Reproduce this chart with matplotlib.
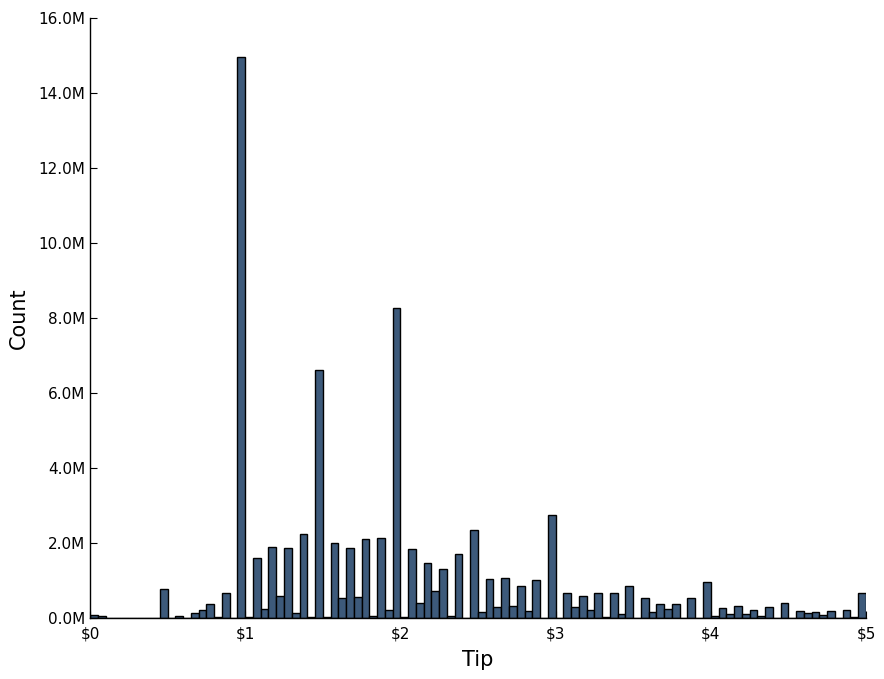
import numpy as np
import matplotlib
matplotlib.use("Agg")
import matplotlib.pyplot as plt
from matplotlib.ticker import FuncFormatter

# Tip histogram: 100 bins of $0.05 from $0 to $5; counts in millions
bin_width = 0.05
bin_left = np.arange(100) * bin_width
counts_m = [
    0.09, 0.06, 0.0, 0.0, 0.0, 0.0, 0.0, 0.0, 0.0, 0.77,   # 0.00-0.45
    0.0, 0.05, 0.0, 0.13, 0.21, 0.37, 0.03, 0.66, 0.0, 14.96,  # 0.50-0.95
    0.03, 1.59, 0.24, 1.89, 0.59, 1.86, 0.13, 2.23, 0.02, 6.61,  # 1.00-1.45
    0.03, 1.99, 0.53, 1.86, 0.56, 2.11, 0.06, 2.13, 0.21, 8.27,  # 1.50-1.95
    0.02, 1.83, 0.39, 1.46, 0.72, 1.31, 0.06, 1.70, 0.01, 2.34,  # 2.00-2.45
    0.16, 1.03, 0.29, 1.07, 0.32, 0.85, 0.18, 1.01, 0.01, 2.75,  # 2.50-2.95
    0.01, 0.66, 0.30, 0.59, 0.21, 0.66, 0.03, 0.66, 0.11, 0.85,  # 3.00-3.45
    0.01, 0.53, 0.15, 0.38, 0.24, 0.38, 0.01, 0.53, 0.01, 0.96,  # 3.50-3.95
    0.06, 0.28, 0.11, 0.32, 0.11, 0.21, 0.05, 0.29, 0.01, 0.40,  # 4.00-4.45
    0.01, 0.19, 0.14, 0.16, 0.08, 0.19, 0.01, 0.21, 0.03, 0.66,  # 4.50-4.95
]
counts = np.array(counts_m) * 1e6

x_ticks = [0, 1, 2, 3, 4, 5]
y_ticks = np.arange(0, 16.5e6, 2e6)

fig = plt.figure(figsize=(8.84, 6.79), dpi=100)
ax = fig.add_axes([0.1018, 0.0898, 0.8778, 0.8837])

ax.bar(bin_left, counts, width=bin_width, align="edge",
       color="#3d5a7b", edgecolor="black", linewidth=1.0)

ax.set_xlim(0, 5)
ax.set_ylim(0, 16e6)
ax.set_xticks(x_ticks)
ax.set_yticks(y_ticks)
ax.xaxis.set_major_formatter(FuncFormatter(lambda v, p: f"${int(round(v))}"))
ax.yaxis.set_major_formatter(FuncFormatter(lambda v, p: f"{v/1e6:.1f}M"))

for s in ["top", "right"]:
    ax.spines[s].set_visible(False)
ax.spines["left"].set_linewidth(1.0)
ax.spines["bottom"].set_linewidth(1.0)
ax.tick_params(direction="in", length=5, labelsize=11, top=False, right=False)
ax.tick_params(axis="x", pad=6)

ax.set_xlabel("Tip", fontsize=15, labelpad=6)
ax.set_ylabel("Count", fontsize=15, labelpad=7)

fig.savefig("out.png", dpi=100)
